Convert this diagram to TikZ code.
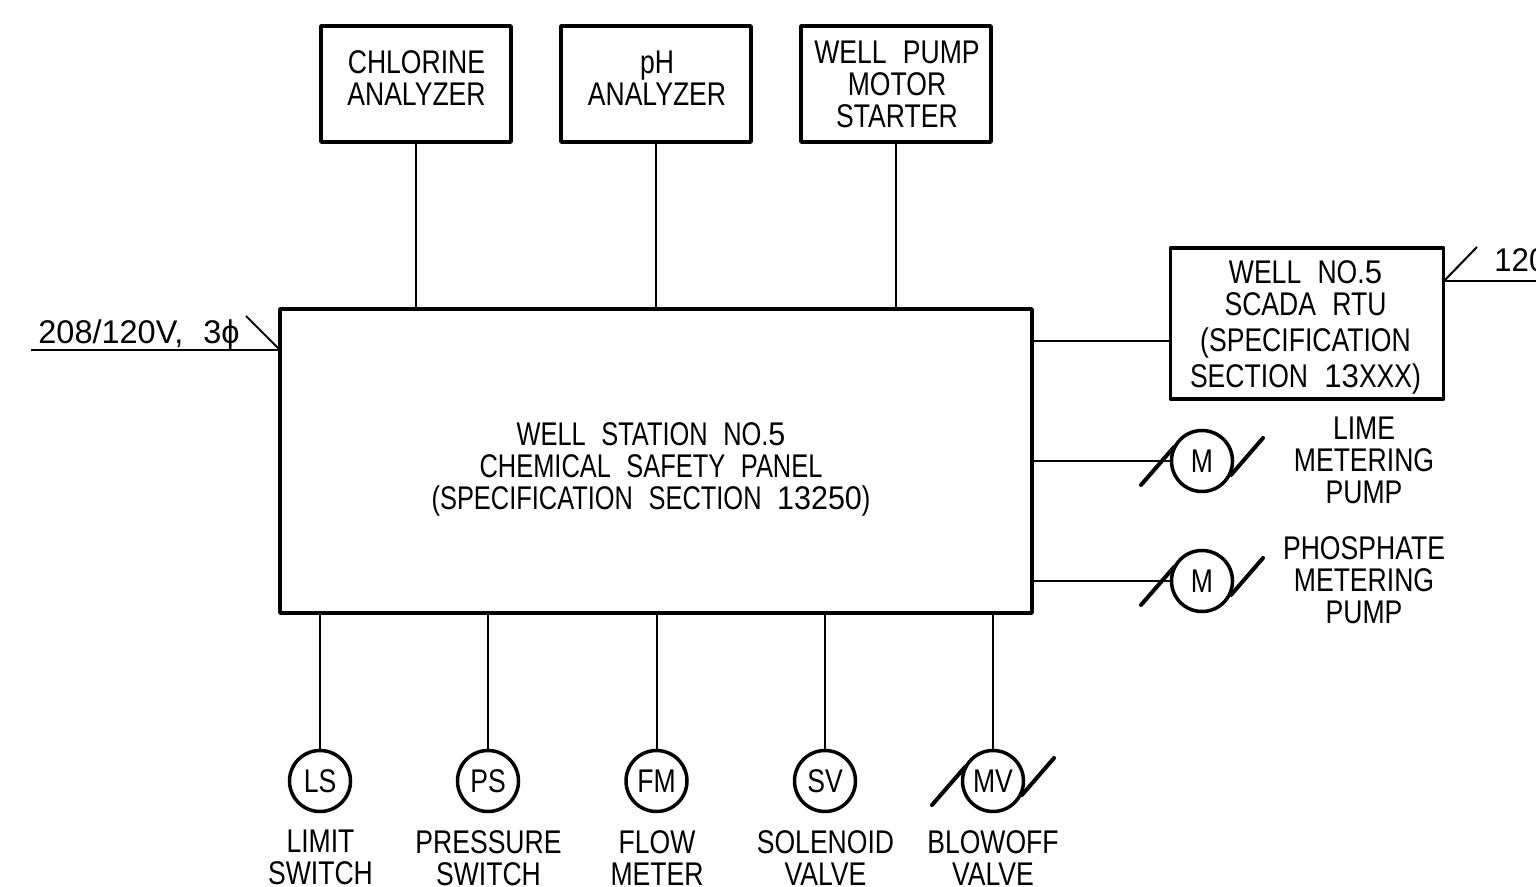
\documentclass[tikz,border=0pt]{standalone}
\usepackage{fontspec}
\setmainfont[FakeStretch=0.81,WordSpace=2.2]{Liberation Sans}
\newfontfamily\dgfont[FakeStretch=0.95,WordSpace=2.2]{Liberation Sans}
\newfontfamily\lblfont[FakeStretch=0.99,WordSpace=2.2]{Liberation Sans}
\newfontfamily\panelfont[FakeStretch=0.775,WordSpace=2.2]{Liberation Sans}
\newfontfamily\paneldg[FakeStretch=0.93,WordSpace=2.2]{Liberation Sans}
\newcommand{\dg}[1]{{\dgfont #1}}
\newcommand{\pdg}[1]{{\paneldg #1}}
\tikzset{
  heavy/.style={line width=1.75pt,line cap=round,line join=round},
  slash/.style={line width=2pt,line cap=round},
  thin line/.style={line width=1pt},
  txt/.style={font=\fontsize{16.4}{16}\selectfont,align=center,inner sep=0pt,text depth=0pt},
  block/.style={draw,heavy,txt},
  instr/.style={draw,heavy,circle,minimum size=30.5pt,inner sep=0pt,font=\fontsize{16.4}{16}\selectfont},
}
\begin{document}
\begin{tikzpicture}[x=0.5pt,y=-0.5pt]
\path[use as bounding box] (0,0) rectangle (1536,887);
\clip (0,0) rectangle (1536,887);
% upper blocks
\node[block,minimum width=95pt,minimum height=58pt] (chl) at (416,84) {};
\node[block,minimum width=95pt,minimum height=58pt] (ph) at (656,84) {};
\node[block,minimum width=95pt,minimum height=58pt] (wp) at (896,84) {};
\node[txt] (chltxt) at (416.5,78.5) {CHLORINE\\ANALYZER};
\node[txt] (phtxt) at (657,78.5) {pH\\ANALYZER};
\node[txt] (wptxt) at (897,84) {WELL PUMP\\MOTOR\\STARTER};
% panel
\node[block,minimum width=376pt,minimum height=152pt] (panel) at (656,461) {};
\node[txt] (paneltxt) at (651,466.5) {\panelfont WELL STATION NO.\pdg{5}\\\panelfont CHEMICAL SAFETY PANEL\\\panelfont (SPECIFICATION SECTION \pdg{13250})};
% RTU
\node[block,minimum width=136.5pt,minimum height=75.5pt] (rtu) at (1307,323.5) {};
\node[txt] (rtutxt) at (1305.5,324) {WELL NO.\dg{5}\\SCADA RTU\\[2pt](SPECIFICATION\\[2pt]SECTION \dg{13}XXX)};
% motors
\node[instr] (m1) at (1202,461) {M};
\node[instr] (m2) at (1202,581) {M};
\node[txt] (m1txt) at (1364,460) {LIME\\METERING\\PUMP};
\node[txt] (m2txt) at (1364,580) {PHOSPHATE\\METERING\\PUMP};
% field instruments
\node[instr] (ls) at (320,781) {LS};
\node[instr] (ps) at (488,781) {PS};
\node[instr] (fm) at (656.5,781) {FM};
\node[instr] (sv) at (825,781) {SV};
\node[instr] (mv) at (993,781) {MV};
\node[txt,anchor=north] (lstxt) at (320.5,830) {LIMIT\\SWITCH};
\node[txt,anchor=north] (pstxt) at (488.5,830) {PRESSURE\\SWITCH};
\node[txt,anchor=north] (fmtxt) at (657,830) {FLOW\\METER};
\node[txt,anchor=north] (svtxt) at (825.5,830) {SOLENOID\\VALVE};
\node[txt,anchor=north] (mvtxt) at (993,830) {BLOWOFF\\VALVE};
% power feeds
\coordinate (feedL) at (31,350);
\coordinate (feedLend) at (280,350);
\coordinate (feedR) at (1536,281);
\coordinate (feedRstart) at (1444,281);
\node[txt,anchor=base west] (v208) at (38,344) {\lblfont 208/120V, 3ϕ};
\node[txt,anchor=base west] (v120) at (1494,272) {\dg{120}};
\draw[thin line] (feedL) -- (feedLend);
\draw[thin line] (feedLend) -- ++(-34,-34);
\draw[thin line] (feedRstart) -- (feedR);
\draw[thin line] (feedRstart) -- ++(33,-34);
% connectors
\draw[thin line] (chl.south) -- (chl.south |- panel.north);
\draw[thin line] (ph.south) -- (ph.south |- panel.north);
\draw[thin line] (wp.south) -- (wp.south |- panel.north);
\coordinate (prtu) at (1032,341);
\draw[thin line] (prtu) -- (rtu.west |- prtu);
\draw[thin line] (panel.east |- m1) -- (m1.west);
\draw[thin line] (panel.east |- m2) -- (m2.west);
\foreach \n in {ls,ps,fm,sv,mv}{
  \draw[thin line] (panel.south -| \n.north) -- (\n.north);
}
% motor slashes
\foreach \n in {m1,m2,mv}{
  \draw[slash] (\n) ++(-61,24) -- ++(33,-38);
  \draw[slash] (\n) ++(29,14) -- ++(32,-37);
}
\end{tikzpicture}
\end{document}
